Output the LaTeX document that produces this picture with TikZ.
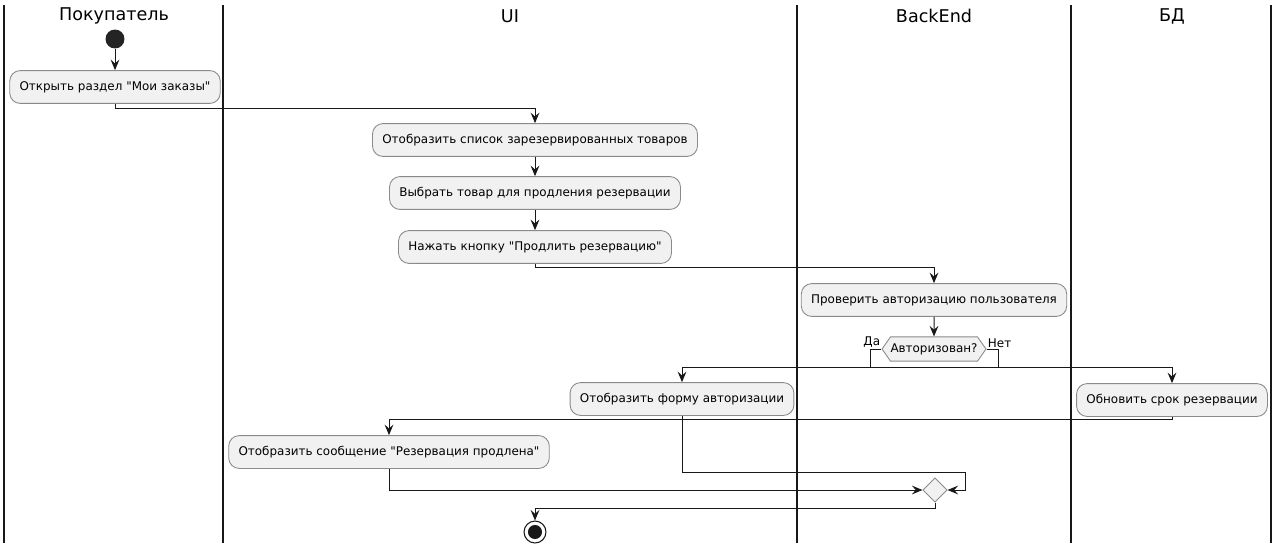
\documentclass[tikz,border=0pt]{standalone}
\usepackage{fontspec}
\setmainfont{DejaVu Sans}[Ligatures=TeXOff]
\usetikzlibrary{arrows.meta,shapes.geometric,shapes.symbols}
\definecolor{boxfill}{HTML}{F1F1F1}
\definecolor{boxline}{HTML}{8A8A8A}
\definecolor{ink}{HTML}{181818}
\begin{document}
\begin{tikzpicture}[x=0.02cm,y=-0.02cm,
    act/.style={draw=boxline,fill=boxfill,line width=0.5pt,rounded corners=6pt,
        minimum height=18.7pt,inner xsep=5.6pt,inner ysep=0pt,font=\fontsize{6.8}{8}\selectfont},
    lane/.style={draw=ink,line width=0.9pt},
    head/.style={font=\fontsize{10}{12}\selectfont,inner sep=0pt},
    flow/.style={draw=ink,line width=0.55pt,-{Stealth[length=6pt,width=5pt,inset=2.2pt]}},
    plain/.style={draw=ink,line width=0.55pt}]
        \useasboundingbox (0,0) rectangle (1280,552);
        \draw [lane] (4,5) -- (4,543);
        \draw [lane] (223,5) -- (223,543);
        \draw [lane] (797,5) -- (797,543);
        \draw [lane] (1071,5) -- (1071,543);
        \draw [lane] (1271,5) -- (1271,543);
        \node [head] (hbuyer) at (114,16) {Покупатель};
        \node [head] (hui) at (510,16) {UI};
        \node [head] (hback) at (934,16) {BackEnd};
        \node [head] (hdb) at (1172,16) {БД};
        \node [circle,fill=ink!95,minimum size=10.8pt,inner sep=0pt] (start) at (115,39) {};
        \node [act] (open) at (115,87) {Открыть раздел "Мои заказы"};
        \node [act] (list) at (535,140) {Отобразить список зарезервированных товаров};
        \node [act] (choose) at (535,193) {Выбрать товар для продления резервации};
        \node [act] (press) at (535,247) {Нажать кнопку "Продлить резервацию"};
        \node [act] (check) at (934,300) {Проверить авторизацию пользователя};
        \node [signal,signal to=west and east,signal pointer angle=110,draw=boxline,fill=boxfill,
            line width=0.5pt,minimum height=13.8pt,inner xsep=0pt,inner ysep=0pt,
            font=\fontsize{6.8}{8}\selectfont] (dec) at (934,349) {Авторизован?};
        \node [above left,inner sep=0.6pt,font=\fontsize{6.8}{8}\selectfont] (yes) at (dec.west) {Да};
        \node [above right,inner sep=0.6pt,font=\fontsize{6.8}{8}\selectfont] (no) at (dec.east) {Нет};
        \node [act] (form) at (682,399) {Отобразить форму авторизации};
        \node [act] (upd) at (1172,400) {Обновить срок резервации};
        \node [act] (msg) at (389,452) {Отобразить сообщение "Резервация продлена"};
        \node [diamond,draw=boxline,fill=boxfill,line width=0.5pt,minimum size=13.8pt,inner sep=0pt] (merge) at (935,490) {};
        \node [circle,draw=ink,line width=0.6pt,minimum size=12.5pt,inner sep=0pt] (stop) at (535,532) {};
        \node [circle,fill=ink,minimum size=8pt,inner sep=0pt] (stopdot) at (stop) {};
        \draw [flow] (start) -- (open);
        \draw [flow] (open.south) -- ++(0,5) -| (list.north);
        \draw [flow] (list) -- (choose);
        \draw [flow] (choose) -- (press);
        \draw [flow] (press.south) -- ++(0,4) -| (check.north);
        \draw [flow] (check) -- (dec);
        \draw [flow] (dec.west) -- ++(-11,0) -- ++(0,18) coordinate (yesturn) -| (form.north);
        \draw [flow] (dec.east) -- ++(12,0) -- ++(0,18) coordinate (noturn) -| (upd.north);
        \draw [plain] (yesturn) -- (noturn);
        \draw [flow] (upd.south) -- ++(0,3) -| (msg.north);
        \draw [flow] (form.south) -- ++(0,57) -- ++(283,0) |- (merge.east);
        \draw [flow] (msg.south) |- (merge.west);
        \draw [flow] (merge.south) -- ++(0,6) -| (stop.north);
    \end{tikzpicture}
\end{document}
